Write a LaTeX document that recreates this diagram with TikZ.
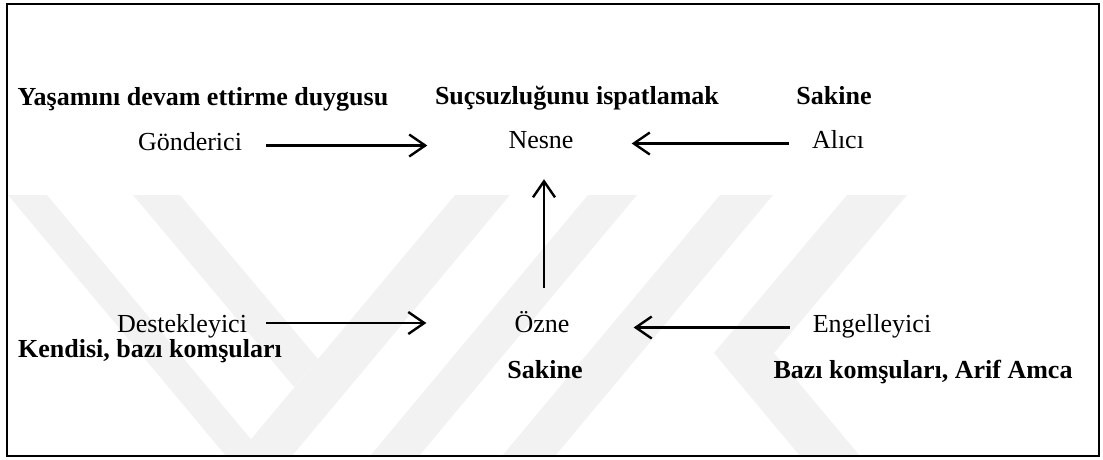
\documentclass[tikz,border=0pt]{standalone}
\usepackage{fontspec}
\setmainfont{Liberation Serif}
\usetikzlibrary{arrows.meta}
\begin{document}
\begin{tikzpicture}[x=1pt,y=-1pt,
  lbl/.style={font=\fontsize{26}{30}\selectfont, inner sep=0pt, text height=13pt, text depth=4pt, anchor=base},
  blbl/.style={font=\fontsize{26}{30}\selectfont\bfseries, inner sep=0pt, anchor=base},
  arr/.style={line width=2.4pt, -{Straight Barb[length=16pt,width=22pt]}},
  wm/.style={fill=black!5, draw=none}]
\useasboundingbox (0,0) rectangle (1103,459);
% faint watermark
\begin{scope}
\clip (7,4) rectangle (1099,456);
\fill[wm] (8,195) -- (47,195) -- (265,456) -- (226,456) -- cycle;
\fill[wm] (133,195) -- (180,195) -- (318,359) -- (294,387) -- cycle;
\fill[wm] (455,195) -- (510,195) -- (292,456) -- (237,456) -- cycle;
\fill[wm] (588,195) -- (637,195) -- (419,456) -- (370,456) -- cycle;
\fill[wm] (720,195) -- (773,195) -- (555,456) -- (502,456) -- cycle;
\fill[wm] (847,195) -- (907,195) -- (774,353) -- (860,456) -- (800,456) -- (714,353) -- cycle;
\end{scope}
% frame
\draw[line width=2.5pt] (7,4) rectangle (1099,456);
% bold labels
\node[blbl] (yasam) at (203,105) {Yaşamını devam ettirme duygusu};
\node[blbl] (sucs) at (577,104) {Suçsuzluğunu ispatlamak};
\node[blbl] (sakineA) at (834,104) {Sakine};
\node[blbl] (kendisi) at (150,357) {Kendisi, bazı komşuları};
\node[blbl] (sakineB) at (545,378) {Sakine};
\node[blbl] (bazi) at (923,378) {Bazı komşuları, Arif Amca};
% role labels
\node[lbl] (gon) at (190,150) {Gönderici};
\node[lbl] (nesne) at (541,148) {Nesne};
\node[lbl] (alici) at (838,148) {Alıcı};
\node[lbl] (destek) at (182,332) {Destekleyici};
\node[lbl] (ozne) at (542,332) {Özne};
\node[lbl] (engel) at (872,332) {Engelleyici};
% connectors
\draw[arr, shorten <=24pt, shorten >=81pt] (gon.east) -- (gon.east -| nesne.west);
\draw[arr, shorten <=23pt, shorten >=58pt] (alici.west) -- (alici.west -| nesne.east);
\draw[arr, shorten <=19pt, shorten >=88pt] ([yshift=4.5pt]destek.east) -- ([yshift=4.5pt]destek.east -| ozne.west);
\draw[arr, shorten <=23pt, shorten >=64pt] (engel.west) -- (engel.west -| ozne.east);
\draw[arr, shorten <=31pt, shorten >=27pt] ([xshift=2pt]ozne.north) -- ([xshift=2pt]ozne.north |- nesne.south);
\end{tikzpicture}
\end{document}
